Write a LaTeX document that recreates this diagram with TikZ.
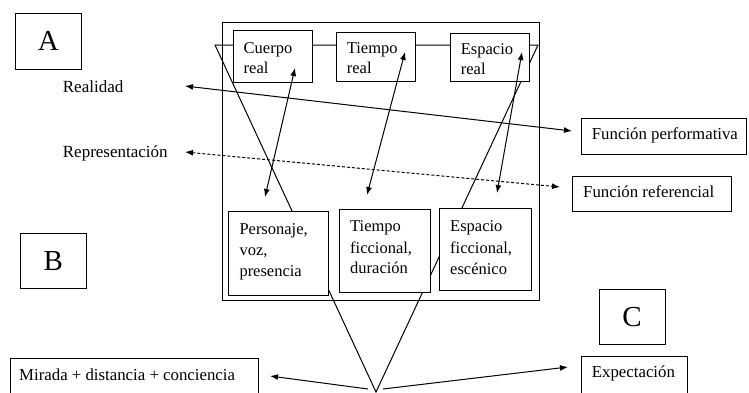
\documentclass[tikz,border=0pt]{standalone}
\usepackage{fontspec}
\setmainfont{Liberation Serif}
\usetikzlibrary{arrows.meta}
\begin{document}
\begin{tikzpicture}[x=1pt,y=-1pt,
  box/.style={draw=black,line width=1pt,fill=white,inner sep=0pt,rectangle},
  txt/.style={anchor=base west,inner sep=0pt,font=\fontsize{16.5}{20}\selectfont},
  big/.style={font=\fontsize{29}{30}\selectfont,inner sep=0pt},
  conn/.style={line width=1pt},
  dbl/.style={conn,{Latex[length=8pt,width=6pt]}-{Latex[length=8pt,width=6pt]}},
  one/.style={conn,-{Latex[length=8pt,width=6pt]}}]
\useasboundingbox (0,0) rectangle (749,392);
\clip (0,0) rectangle (749,392);
% outer frame
\node[draw=black,line width=1pt,inner sep=0pt,minimum width=316.3pt,minimum height=278pt] (frame) at (380.85,161) {};
% triangle
\coordinate (tl) at (215,45);
\coordinate (tr) at (538,45);
\coordinate (apex) at (376,392);
\draw[conn] (tl) -- (tr) -- (apex) -- cycle;
% upper boxes
\node[box,minimum width=79pt,minimum height=51.5pt] (cuerpo) at (272.5,56.25) {};
\node[box,minimum width=79pt,minimum height=49pt] (tiempo) at (375.5,57.2) {};
\node[box,minimum width=78.8pt,minimum height=48.4pt] (espacio) at (490.1,57.5) {};
% lower boxes
\node[box,minimum width=99.6pt,minimum height=83.3pt] (personaje) at (278.5,253.35) {};
\node[box,minimum width=90.7pt,minimum height=83.4pt] (tficc) at (384.65,251) {};
\node[box,minimum width=92.2pt,minimum height=81.8pt] (eficc) at (485.6,249.6) {};
% box texts
\node[txt] (t1a) at (243.5,53.5) {Cuerpo};
\node[txt] (t1b) at (243.5,73.5) {real};
\node[txt] (t2a) at (346.7,53.5) {Tiempo};
\node[txt] (t2b) at (346.7,73.5) {real};
\node[txt] (t3a) at (460.7,54) {Espacio};
\node[txt] (t3b) at (460.7,74) {real};
\node[txt] (t4a) at (239.3,234.3) {Personaje,};
\node[txt] (t4b) at (239.3,255.7) {voz,};
\node[txt] (t4c) at (239.3,276.5) {presencia};
\node[txt] (t5a) at (350,231.7) {Tiempo};
\node[txt] (t5b) at (350,253.3) {ficcional,};
\node[txt] (t5c) at (350,273.8) {duración};
\node[txt] (t6a) at (450,231.7) {Espacio};
\node[txt] (t6b) at (450,253.3) {ficcional,};
\node[txt] (t6c) at (450,274) {escénico};
% letter boxes
\node[box,minimum width=66.7pt,minimum height=56pt] (A) at (48.35,41.3) {};
\node[big] (Al) at (A) {A};
\node[box,minimum width=65.3pt,minimum height=55pt] (B) at (53.35,260.8) {};
\node[big] (Bl) at (B) {B};
\node[box,minimum width=65.7pt,minimum height=55pt] (C) at (632.15,316.8) {};
\node[big] (Cl) at (C) {C};
% side labels
\node[txt,font=\fontsize{17}{20}\selectfont] (real) at (62.7,92.7) {Realidad};
\node[txt,font=\fontsize{17}{20}\selectfont] (repr) at (62.7,157.3) {Representación};
% right boxes
\node[box,minimum width=164.3pt,minimum height=36pt] (fperf) at (663.85,136.3) {};
\node[txt,font=\fontsize{16.8}{20}\selectfont] (fperft) at (591.7,139.5) {Función performativa};
\node[box,minimum width=159pt,minimum height=35pt] (fref) at (652.2,193.5) {};
\node[txt,font=\fontsize{16.8}{20}\selectfont] (freft) at (583,197) {Función referencial};
\node[box,minimum width=106pt,minimum height=46pt] (expe) at (634.7,379) {};
\node[txt,font=\fontsize{16.8}{20}\selectfont] (expet) at (591.7,377.5) {Expectación};
\node[box,minimum width=247.5pt,minimum height=44pt] (mir) at (134.25,380.7) {};
\node[txt,font=\fontsize{16.8}{20}\selectfont] (mirt) at (19,380) {Mirada + distancia + conciencia};
% connectors
\coordinate (r1) at (185,86);
\coordinate (r2) at (572,131);
\draw[dbl] (r1) -- (r2);
\coordinate (p1) at (185,152);
\coordinate (p2) at (560,187);
\draw[dbl,dash pattern=on 3pt off 2pt] (p1) -- (p2);
\coordinate (a1t) at (295,68);
\coordinate (a1b) at (265,197);
\draw[dbl] (a1t) -- (a1b);
\coordinate (a2t) at (405,52);
\coordinate (a2b) at (367,195);
\draw[dbl] (a2t) -- (a2b);
\coordinate (a3t) at (522,52);
\coordinate (a3b) at (497,193);
\draw[dbl] (a3t) -- (a3b);
\coordinate (bl0) at (368,389);
\coordinate (bl1) at (270,376);
\draw[one] (bl0) -- (bl1);
\coordinate (br0) at (383,389);
\coordinate (br1) at (568,367);
\draw[one] (br0) -- (br1);
\end{tikzpicture}
\end{document}
